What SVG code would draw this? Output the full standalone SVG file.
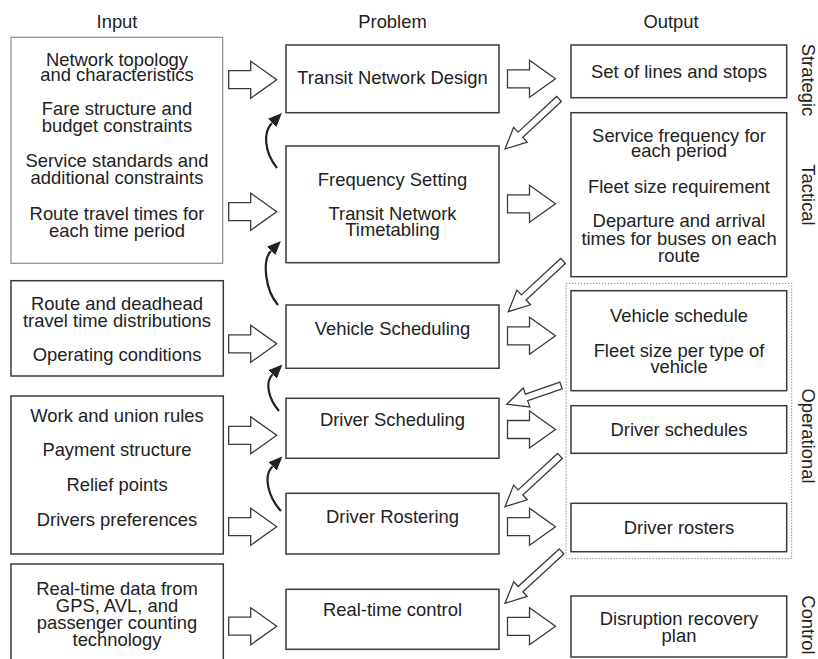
<svg xmlns="http://www.w3.org/2000/svg" width="818" height="659" viewBox="0 0 818 659">
<style>
text{font-family:"Liberation Sans",Arial,sans-serif;font-size:18.4px;fill:#222;text-anchor:middle}
.box{fill:#fff;stroke:#3a3a3a;stroke-width:1.5}
.lbox{fill:#fff;stroke:#8a8a8a;stroke-width:1.2}
.blk{fill:#fff;stroke:#3a3a3a;stroke-width:1.3;stroke-linejoin:miter}
.curve{fill:none;stroke:#222;stroke-width:2.2}
.dot{fill:none;stroke:#777;stroke-width:1;stroke-dasharray:1.2 1.8}
</style>
<defs>
<path id="ba" d="M-48,-9 H-26 V-18.5 L0,0 L-26,18.5 V9 H-48 Z"/>
<marker id="ah" markerUnits="userSpaceOnUse" markerWidth="16" markerHeight="14" refX="0" refY="6" orient="auto" viewBox="0 0 16 12">
<path d="M0,0 L14,6 L0,12 Z" fill="#222"/>
</marker>
</defs>
<rect width="818" height="659" fill="#fff"/>

<g id="headers">
<text x="117" y="28">Input</text>
<text x="392.5" y="28">Problem</text>
<text x="671" y="28">Output</text>
</g>

<g id="levels">
<text transform="translate(802,80) rotate(90)">Strategic</text>
<text transform="translate(802,195) rotate(90)">Tactical</text>
<text transform="translate(802,436) rotate(90)">Operational</text>
<text transform="translate(802,625) rotate(90)">Control</text>
</g>

<rect id="operational-group" class="dot" x="566" y="283.3" width="225.7" height="275.4"/>

<g id="input1">
<rect class="lbox" x="11" y="37.3" width="211.7" height="226"/>
<text x="117" y="65.5">Network topology</text>
<text x="117" y="81">and characteristics</text>
<text x="117" y="115">Fare structure and</text>
<text x="117" y="131.5">budget constraints</text>
<text x="117" y="166.7">Service standards and</text>
<text x="117" y="184">additional constraints</text>
<text x="117" y="220">Route travel times for</text>
<text x="117" y="236.7">each time period</text>
</g>
<g id="input2">
<rect class="box" x="11" y="280.7" width="212.3" height="95.3"/>
<text x="117" y="310">Route and deadhead</text>
<text x="117" y="326.7">travel time distributions</text>
<text x="117" y="360.7">Operating conditions</text>
</g>
<g id="input3">
<rect class="box" x="11" y="396" width="212.3" height="158"/>
<text x="117" y="421.7">Work and union rules</text>
<text x="117" y="456">Payment structure</text>
<text x="117" y="490.7">Relief points</text>
<text x="117" y="525.7">Drivers preferences</text>
</g>
<g id="input4">
<rect class="box" x="11" y="564" width="212.3" height="110"/>
<text x="117" y="595">Real-time data from</text>
<text x="117" y="612.3">GPS, AVL, and</text>
<text x="117" y="629.3">passenger counting</text>
<text x="117" y="646">technology</text>
</g>

<g id="p-network-design">
<rect class="box" x="286" y="45" width="213" height="67.7"/>
<text x="392.5" y="84.3">Transit Network Design</text>
</g>
<g id="p-frequency">
<rect class="box" x="286" y="146" width="213" height="116.7"/>
<text x="392.5" y="185.7">Frequency Setting</text>
<text x="392.5" y="220">Transit Network</text>
<text x="392.5" y="236">Timetabling</text>
</g>
<g id="p-vehicle">
<rect class="box" x="286" y="305" width="213" height="63.3"/>
<text x="392.5" y="335">Vehicle Scheduling</text>
</g>
<g id="p-driver-sched">
<rect class="box" x="286" y="398.3" width="213" height="60"/>
<text x="392.5" y="426">Driver Scheduling</text>
</g>
<g id="p-driver-roster">
<rect class="box" x="286" y="493.3" width="213" height="60.7"/>
<text x="392.5" y="522.7">Driver Rostering</text>
</g>
<g id="p-realtime">
<rect class="box" x="286" y="589.3" width="213" height="60"/>
<text x="392.5" y="616">Real-time control</text>
</g>

<g id="o-lines">
<rect class="box" x="571" y="45" width="215.7" height="52.7"/>
<text x="679" y="77.7">Set of lines and stops</text>
</g>
<g id="o-tactical">
<rect class="box" x="571" y="112.7" width="215.7" height="164"/>
<text x="679" y="141.7">Service frequency for</text>
<text x="679" y="157.3">each period</text>
<text x="679" y="192.7">Fleet size requirement</text>
<text x="679" y="227.3">Departure and arrival</text>
<text x="679" y="245">times for buses on each</text>
<text x="679" y="261.7">route</text>
</g>
<g id="o-vehicle">
<rect class="box" x="571" y="290.7" width="215.7" height="100"/>
<text x="679" y="321.7">Vehicle schedule</text>
<text x="679" y="357.3">Fleet size per type of</text>
<text x="679" y="373.3">vehicle</text>
</g>
<g id="o-driver-sched">
<rect class="box" x="571" y="405.7" width="215.7" height="47.6"/>
<text x="679" y="436">Driver schedules</text>
</g>
<g id="o-driver-roster">
<rect class="box" x="571" y="503.3" width="215.7" height="48.4"/>
<text x="679" y="534">Driver rosters</text>
</g>
<g id="o-disruption">
<rect class="box" x="571" y="596" width="215.7" height="61"/>
<text x="679" y="625">Disruption recovery</text>
<text x="679" y="641.7">plan</text>
</g>

<g id="connectors">
<use href="#ba" class="blk" transform="translate(276.7,79.7)"/>
<use href="#ba" class="blk" transform="translate(276.7,211.7)"/>
<use href="#ba" class="blk" transform="translate(276.7,343.8)"/>
<use href="#ba" class="blk" transform="translate(276.7,435.3)"/>
<use href="#ba" class="blk" transform="translate(276.7,526.7)"/>
<use href="#ba" class="blk" transform="translate(276.7,626.2)"/>

<use href="#ba" class="blk" transform="translate(555.5,78.8)"/>
<use href="#ba" class="blk" transform="translate(555.5,203.8)"/>
<use href="#ba" class="blk" transform="translate(555.5,335.8)"/>
<use href="#ba" class="blk" transform="translate(555.5,429.5)"/>
<use href="#ba" class="blk" transform="translate(555.5,526.7)"/>
<use href="#ba" class="blk" transform="translate(555.5,626.3)"/>

<path class="blk" transform="translate(505,149) rotate(137.2)" d="M-73.6,-3.5 H-21 V-10 L0,0 L-21,10 V3.5 H-73.6 Z"/>
<path class="blk" transform="translate(508.3,311.7) rotate(137.2)" d="M-74.6,-3.5 H-21 V-10 L0,0 L-21,10 V3.5 H-74.6 Z"/>
<path class="blk" transform="translate(506.7,404.3) rotate(160.9)" d="M-57.5,-3.5 H-21 V-10 L0,0 L-21,10 V3.5 H-57.5 Z"/>
<path class="blk" transform="translate(505,506.7) rotate(137.3)" d="M-74.8,-3.5 H-21 V-10 L0,0 L-21,10 V3.5 H-74.8 Z"/>
<path class="blk" transform="translate(505,603.3) rotate(137.5)" d="M-76.7,-3.5 H-21 V-10 L0,0 L-21,10 V3.5 H-76.7 Z"/>

<path class="curve" marker-end="url(#ah)" d="M277,168 C264,152 263,132 272,123"/>
<path class="curve" marker-end="url(#ah)" d="M278,305 C265,290 262,260 271,251"/>
<path class="curve" marker-end="url(#ah)" d="M279,411 C268,398 265,382 272.5,374.5"/>
<path class="curve" marker-end="url(#ah)" d="M281,511 C268,497 263,476 272.5,466.5"/>
</g>
</svg>
